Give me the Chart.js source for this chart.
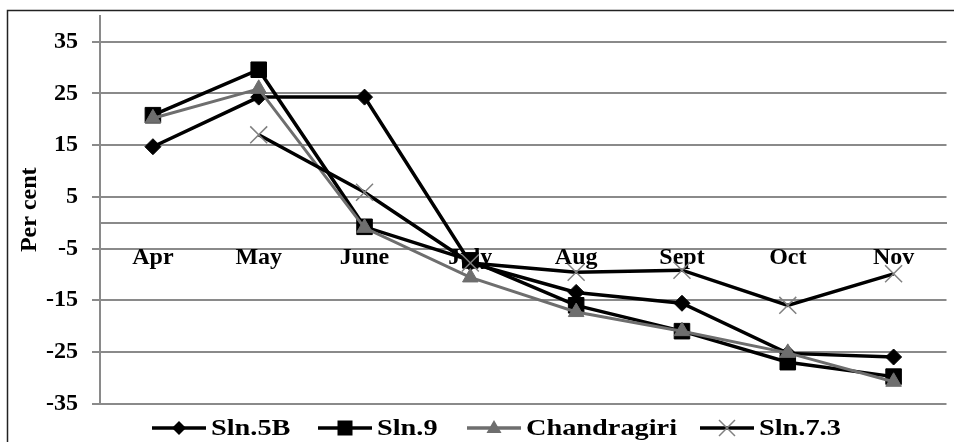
<!DOCTYPE html>
<html><head><meta charset="utf-8">
<script src="https://cdn.jsdelivr.net/npm/chart.js@4"></script>
<style>html,body{margin:0;padding:0;overflow:hidden;background:#fff}</style>
</head><body>
<canvas id="c" width="960" height="442"></canvas>
<script>
// ---- data ----
const months = ['Apr', 'May', 'June', 'July', 'Aug', 'Sept', 'Oct', 'Nov'];
const sln5B = [14.7, 24.3, 24.3, -7.8, -13.5, -15.6, -25.3, -26];
const sln9 = [20.8, 29.6, -0.8, -7.3, -16, -21, -27, -29.8];
const chandragiri = [20.2, 25.9, -1, -10.6, -17.3, -21, -25.2, -30.8];
const sln73 = [null, 17, 5.9, -7.8, -9.6, -9.2, -16, -9.9];
const yTicks = [-35, -25, -15, -5, 5, 15, 25, 35];
const seriesNames = ['Sln.5B', 'Sln.9', 'Chandragiri', 'Sln.7.3'];
const yTitle = 'Per cent';

const SERIF = '"Liberation Serif", "Times New Roman", serif';
const GRID = '#8a8a8a';
const GREY = '#6e6e6e';
const XGREY = '#808080';
const FONT = {family: SERIF, size: 24, weight: 'bold'};

function drawMarker(ctx, style, x, y) {
  ctx.save();
  if (style === 'rectRot') {
    ctx.fillStyle = '#000';
    ctx.beginPath();
    ctx.moveTo(x, y - 7); ctx.lineTo(x + 7, y); ctx.lineTo(x, y + 7); ctx.lineTo(x - 7, y);
    ctx.closePath(); ctx.fill();
  } else if (style === 'rect') {
    ctx.fillStyle = '#000';
    ctx.fillRect(x - 7.5, y - 7.5, 15, 15);
  } else if (style === 'triangle') {
    ctx.fillStyle = GREY;
    ctx.beginPath();
    ctx.moveTo(x, y - 8); ctx.lineTo(x + 7.5, y + 5); ctx.lineTo(x - 7.5, y + 5);
    ctx.closePath(); ctx.fill();
  } else if (style === 'crossRot') {
    ctx.strokeStyle = XGREY; ctx.lineWidth = 1.5;
    ctx.beginPath();
    ctx.moveTo(x - 8, y - 8); ctx.lineTo(x + 8, y + 8);
    ctx.moveTo(x + 8, y - 8); ctx.lineTo(x - 8, y + 8);
    ctx.stroke();
  }
  ctx.restore();
}

const framePlugin = {
  id: 'frame',
  beforeDraw(chart) {
    const ctx = chart.ctx;
    ctx.save();
    ctx.fillStyle = '#fff';
    ctx.fillRect(0, 0, chart.width, chart.height);
    ctx.restore();
  },
  afterDraw(chart) {
    const ctx = chart.ctx;
    ctx.save();
    ctx.strokeStyle = '#222';
    ctx.lineWidth = 1.5;
    ctx.strokeRect(7.5, 10.5, 1000, 1000);
    // legend
    const starts = [152, 318, 467, 700];
    const ly = 428;
    chart.data.datasets.forEach((ds, i) => {
      const x0 = starts[i];
      ctx.strokeStyle = ds.borderColor;
      ctx.lineWidth = 3.5;
      ctx.beginPath();
      ctx.moveTo(x0, ly); ctx.lineTo(x0 + 54, ly);
      ctx.stroke();
      drawMarker(ctx, ds.pointStyle, x0 + 27, ly);
      ctx.save();
      ctx.translate(x0 + 59, ly + 1);
      ctx.scale(1.18, 1);
      ctx.fillStyle = '#000';
      ctx.font = 'bold 24px ' + SERIF;
      ctx.textAlign = 'left';
      ctx.textBaseline = 'middle';
      ctx.fillText(seriesNames[i], 0, 0);
      ctx.restore();
    });
    ctx.restore();
  }
};

new Chart(document.getElementById('c'), {
  type: 'line',
  data: {
    labels: months,
    datasets: [
      {label: seriesNames[0], data: sln5B, borderColor: '#000', backgroundColor: '#000', borderWidth: 3.5,
       pointStyle: 'rectRot', pointRadius: 8, pointBorderWidth: 1, pointBackgroundColor: '#000', pointBorderColor: '#000', order: 4},
      {label: seriesNames[1], data: sln9, borderColor: '#000', backgroundColor: '#000', borderWidth: 3.5,
       pointStyle: 'rect', pointRadius: 11, pointBorderWidth: 1, pointBackgroundColor: '#000', pointBorderColor: '#000', order: 3},
      {label: seriesNames[2], data: chandragiri, borderColor: GREY, backgroundColor: GREY, borderWidth: 3,
       pointStyle: 'triangle', pointRadius: 9, pointBorderWidth: 1, pointBackgroundColor: GREY, pointBorderColor: GREY, order: 2},
      {label: seriesNames[3], data: sln73, borderColor: '#000', backgroundColor: '#000', borderWidth: 3.5,
       pointStyle: 'crossRot', pointRadius: 12, pointBorderWidth: 1.5, pointBackgroundColor: XGREY, pointBorderColor: XGREY, order: 1}
    ]
  },
  options: {
    responsive: false,
    animation: false,
    devicePixelRatio: 1,
    layout: {padding: {left: 0, top: 16, right: 1, bottom: 38.5}},
    plugins: {legend: {display: false}, tooltip: {enabled: false}},
    elements: {line: {tension: 0}},
    scales: {
      x: {
        type: 'category',
        offset: true,
        position: {y: 0},
        grid: {display: false, drawTicks: false},
        border: {display: true, color: GRID, width: 2},
        ticks: {padding: 21, color: '#000', font: FONT, maxRotation: 0, autoSkip: false},
        afterFit(s) { s.height = 0; s.paddingLeft = 0; s.paddingRight = 0; }
      },
      y: {
        min: -35,
        max: 40,
        afterBuildTicks(s) { s.ticks = yTicks.map(v => ({value: v})); },
        grid: {color: GRID, lineWidth: 2, tickLength: 8, drawTicks: true},
        border: {display: true, color: GRID, width: 2},
        ticks: {padding: 14, color: '#000', font: FONT},
        title: {display: true, text: yTitle, color: '#000', font: FONT, padding: {top: 15, bottom: 0}},
        afterFit(s) { s.width = 100; s.paddingTop = 0; s.paddingBottom = 0; }
      }
    }
  },
  plugins: [framePlugin]
});
</script>
</body></html>
